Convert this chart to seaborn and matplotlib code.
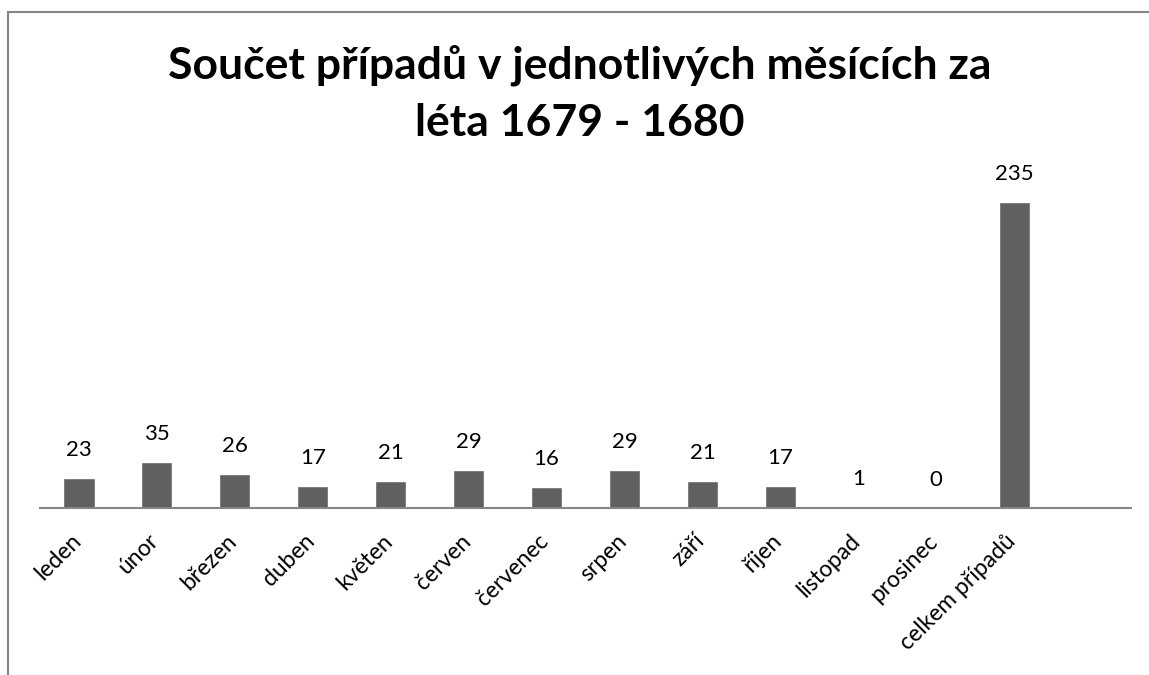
import matplotlib.pyplot as plt
import matplotlib.transforms as mtransforms
import seaborn as sns
import pandas as pd

months = ['leden', 'únor', 'březen', 'duben', 'květen', 'červen', 'červenec',
          'srpen', 'září', 'říjen', 'listopad', 'prosinec', 'celkem případů']
cases = [23, 35, 26, 17, 21, 29, 16, 29, 21, 17, 1, 0, 235]

df = pd.DataFrame({'mesic': months, 'pripady': cases})

sns.set_style('white')
plt.rcParams['font.family'] = ['Lato', 'DejaVu Sans']

fig = plt.figure(figsize=(11.49, 6.75), dpi=100)
ax = fig.add_axes([40 / 1149, 1 - 508 / 675, (1131 - 40) / 1149, (508 - 182) / 675])

sns.barplot(data=df, x='mesic', y='pripady', color='#606060', width=0.4,
            saturation=1, ax=ax)
ax.set_xlim(-0.5, 13.5)
ax.set_ylim(0, 250)

for i, v in enumerate(cases):
    ax.annotate(str(v), (i, v), xytext=(0, 13), textcoords='offset points',
                ha='center', va='bottom', fontsize=16, color='black')

ax.set_xticks(range(len(months)))
ax.set_xticklabels(months, rotation=45, ha='right', va='top',
                   fontsize=16.5, color='black')
ax.tick_params(axis='x', length=0, pad=16)
shift = mtransforms.ScaledTranslation(6 / 100, 0, fig.dpi_scale_trans)
for lab in ax.get_xticklabels():
    lab.set_transform(lab.get_transform() + shift)
ax.set_yticks([])
ax.set_xlabel('')
ax.set_ylabel('')
for side in ['top', 'right', 'left']:
    ax.spines[side].set_visible(False)
ax.spines['bottom'].set_color('#868686')
ax.spines['bottom'].set_linewidth(1.5)

fig.text(0.505, 1 - 94 / 675, 'Součet případů v jednotlivých měsících za\nléta 1679 - 1680',
         ha='center', va='center', fontsize=32, fontweight='bold',
         linespacing=1.5, color='black')

# outer frame (left and top edges)
fig.add_artist(plt.Line2D([8 / 1149, 8 / 1149], [0, 1 - 12 / 675],
                          color='#868686', lw=1.5, transform=fig.transFigure))
fig.add_artist(plt.Line2D([8 / 1149, 1], [1 - 12 / 675, 1 - 12 / 675],
                          color='#868686', lw=1.5, transform=fig.transFigure))

fig.savefig('out.png', dpi=100)
